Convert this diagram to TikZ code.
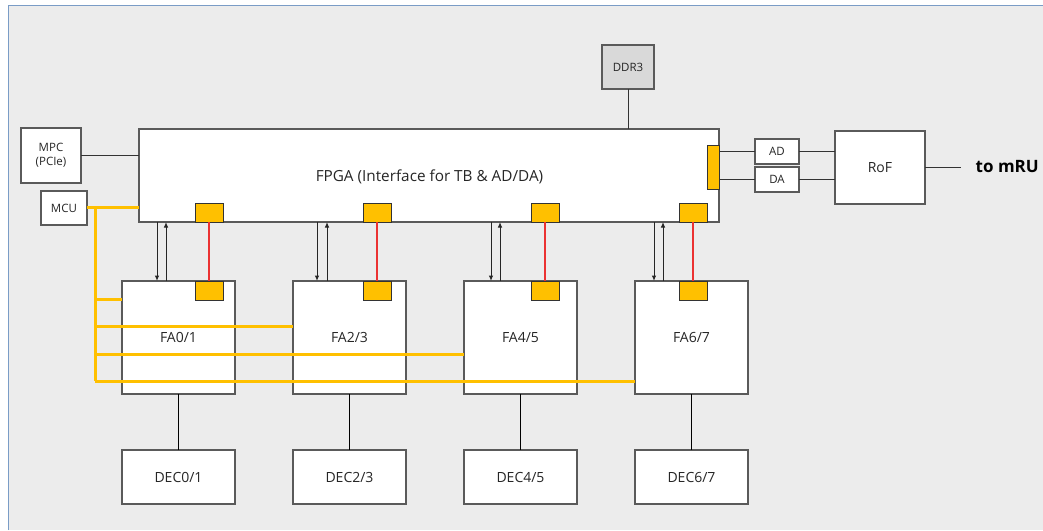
\documentclass[tikz,border=0pt]{standalone}
\usepackage{fontspec}
\setmainfont{Open Sans}
\usetikzlibrary{arrows.meta}
\definecolor{bg}{HTML}{ECECEC}
\definecolor{frameblue}{HTML}{7A9CC6}
\definecolor{port}{HTML}{FFC000}
\definecolor{edge}{HTML}{5A5A5A}
\definecolor{linkred}{RGB}{235,50,50}
\definecolor{mem}{HTML}{D9D9D9}
\tikzset{
  blk/.style={draw=edge, line width=1.2pt, fill=white, inner sep=0pt, outer sep=0pt,
    font=\fontsize{14}{16}\selectfont, text=black!85},
  small/.style={blk, font=\fontsize{11.5}{14}\selectfont, align=center},
  portbox/.style={draw=black!80, line width=0.9pt, fill=port, inner sep=0pt, outer sep=0pt},
  wire/.style={draw=black!80, line width=0.9pt},
  decwire/.style={draw=black, line width=0.7pt},
  ybus/.style={draw=port, line width=3pt},
  redw/.style={draw=linkred, line width=1.1pt},
  arr/.style={draw=black!85, line width=1pt, -{Latex[length=5.5pt,width=4.5pt]}},
}
\begin{document}
\begin{tikzpicture}[x=1pt,y=-1pt]
\useasboundingbox (0,0) rectangle (1043,530);
% canvas
\fill[white] (0,0) rectangle (1043,530);
\fill[bg] (8,5) rectangle (1043,530);
\draw[frameblue, line width=1pt] (8,530) -- (8,5) -- (1043,5);

% main blocks
\node[small, minimum width=60pt, minimum height=55pt] (mpc) at (51,155.5) {MPC\\(PCIe)};
\node[small, minimum width=46pt, minimum height=34pt] (mcu) at (64,208) {MCU};
\node[blk, minimum width=580pt, minimum height=93pt] (fpga) at (429,175.5) {};
\node[font=\fontsize{15.3}{18}\selectfont, text=black!85, inner sep=0pt] (fpgalabel) at (429.5,177) {FPGA (Interface for TB \& AD/DA)};
\node[small, fill=mem, minimum width=52pt, minimum height=44pt] (ddr) at (628,67) {DDR3};
\node[small, minimum width=44pt, minimum height=25pt] (ad) at (777,151.5) {AD};
\node[small, minimum width=44pt, minimum height=25pt] (da) at (777,179.5) {DA};
\node[blk, minimum width=90pt, minimum height=73pt] (rof) at (880,167.5) {RoF};
\node[anchor=west, inner sep=0pt, font=\fontsize{17}{20}\bfseries] (mru) at (975.5,167) {to mRU};

% FPGA ports
\node[portbox, minimum width=12pt, minimum height=44pt] (pr) at (713,167) {};
\foreach \i/\x in {0/209,1/377,2/545,3/693}
  \node[portbox, minimum width=28pt, minimum height=19pt] (fp\i) at (\x,212.5) {};

% front-end boards, their ports and decoders
\foreach \i/\x/\t in {0/178.5/FA0\slash1,1/349.5/FA2\slash3,2/520.5/FA4\slash5,3/691.5/FA6\slash7}
  \node[blk, minimum width=113pt, minimum height=113pt] (fa\i) at (\x,337.5) {\t};
\foreach \i/\x in {0/209,1/377,2/545,3/693}
  \node[portbox, minimum width=28pt, minimum height=19pt] (fap\i) at (\x,290.5) {};
\foreach \i/\x/\t in {0/178.5/DEC0\slash1,1/349.5/DEC2\slash3,2/520.5/DEC4\slash5,3/691.5/DEC6\slash7}
  \node[blk, minimum width=113pt, minimum height=54pt] (dec\i) at (\x,477) {\t};

% host links
\draw[wire] (mpc.east) -- (mpc.east -| fpga.west);
\draw[wire] (ddr.south) -- (ddr.south |- fpga.north);

% converter path
\draw[wire] (ad.west -| pr.east) -- (ad.west);
\draw[wire] (da.west -| pr.east) -- (da.west);
\draw[wire] (ad.east) -- (ad.east -| rof.west);
\draw[wire] (da.east) -- (da.east -| rof.west);
\coordinate (out) at (961,167);
\draw[wire] (rof.east |- out) -- (out);

% data links between FPGA and boards
\foreach \i/\d/\u in {0/157/166,1/317/327,2/491/500,3/654/663}{
  \draw[arr] (\d,0 |- fpga.south) -- (\d,0 |- fa\i.north);
  \draw[arr] (\u,0 |- fa\i.north) -- (\u,0 |- fpga.south);
  \draw[decwire] (fa\i.south) -- (dec\i.north);
}
% serial links between the port pairs
\foreach \i in {0,1,2,3}
  \draw[redw] (fp\i.south) -- (fap\i.north);

% MCU control bus
\coordinate (tap) at (95,207);
\coordinate (b0) at (95,299);
\coordinate (b1) at (95,326);
\coordinate (b2) at (95,354);
\coordinate (b3) at (95,381);
\draw[ybus] (mcu.east |- tap) -- (tap -| fpga.west);
\draw[ybus] (tap) -- (b3);
\foreach \i in {0,1,2,3}
  \draw[ybus] (b\i) -- (b\i -| fa\i.west);
\end{tikzpicture}
\end{document}
